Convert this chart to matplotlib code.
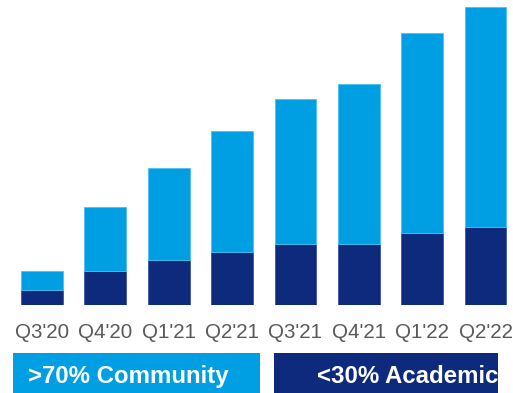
import matplotlib
matplotlib.use("Agg")
import matplotlib.pyplot as plt
from matplotlib.patches import Rectangle

plt.rcParams['font.family'] = ['Liberation Sans', 'DejaVu Sans']

quarters = ["Q3'20", "Q4'20", "Q1'21", "Q2'21", "Q3'21", "Q4'21", "Q1'22", "Q2'22"]
academic = [15, 34, 45, 53, 61, 61, 72, 78]
community = [19, 64, 92, 121, 145, 160, 200, 220]

light_blue = '#009FE3'
navy = '#0D2A7D'
label_gray = '#595959'

W, H = 513, 393
fig = plt.figure(figsize=(W / 100, H / 100), dpi=100)
base_px = 88  # baseline height from the bottom, pixels
ax = fig.add_axes([0, base_px / H, 1, (H - base_px) / H])

step = 63.36
first_center = 42
ax.set_xlim(-first_center / step, (W - first_center) / step)
ax.set_ylim(0, H - base_px)

x = list(range(len(quarters)))
ax.bar(x, academic, width=0.66, color=navy, edgecolor='#3E55A0', linewidth=0.6)
ax.bar(x, community, bottom=academic, width=0.66, color=light_blue,
       edgecolor='#4CC0F0', linewidth=0.6)

for s in ax.spines.values():
    s.set_visible(False)
ax.set_xticks([])
ax.set_yticks([])

# quarter labels under each bar
for xi, q in zip(x, quarters):
    fx = (first_center + xi * step) / W
    fig.text(fx, (H - 338) / H, q, ha='center', va='baseline',
             fontsize=14.8, color=label_gray)

# category boxes along the bottom
fig.add_artist(Rectangle((13 / W, 0), (260 - 13) / W, 40 / H,
                         transform=fig.transFigure, color=light_blue, lw=0))
fig.add_artist(Rectangle((274 / W, 0), (498 - 274) / W, 40 / H,
                         transform=fig.transFigure, color=navy, lw=0))
fig.text(28 / W, (H - 383) / H, '>70% Community', ha='left', va='baseline',
         fontsize=17.3, fontweight='bold', color='white')
fig.text(317 / W, (H - 383) / H, '<30% Academic', ha='left', va='baseline',
         fontsize=17.3, fontweight='bold', color='white')

fig.savefig('out.png', dpi=100)
